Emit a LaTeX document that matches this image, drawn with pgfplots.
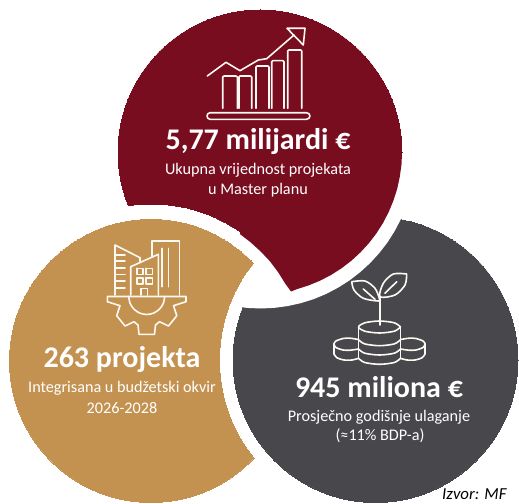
\documentclass[border=0pt]{standalone}
\usepackage{fontspec}
\setmainfont{Carlito}
\usepackage{pgfplots}
\pgfplotsset{compat=1.18}
\definecolor{crimson}{RGB}{120,13,32}
\definecolor{goldtan}{RGB}{196,146,80}
\definecolor{slate}{RGB}{72,72,76}
\definecolor{iconw}{RGB}{252,248,242}
\tikzset{
  disc/.style 2 args={only marks, mark=*, mark size=#1pt,
    mark options={draw=#2, fill=#2, line width=0pt}},
  ic/.style={no markers, draw=iconw, line width=1.6pt, line join=round, line cap=round},
  big/.style={text=white, font=\fontsize{30}{32}\selectfont\bfseries, anchor=center},
  sub/.style={text=white, font=\fontsize{16.2}{18}\selectfont, anchor=center}
}
\begin{document}
\begin{tikzpicture}
\begin{axis}[
  name=ax, scale only axis, width=519pt, height=503pt,
  xmin=0, xmax=519, ymin=0, ymax=503, y dir=reverse,
  hide axis, clip=true, clip marker paths=true
]
% the three circles, each one cutting the next with a white ring
\addplot[disc={142}{crimson}] coordinates {(260,152)};
\addplot[disc={156}{white}] coordinates {(151,361)};
\addplot[disc={141.5}{goldtan}] coordinates {(151,361)};
\addplot[disc={155}{white}] coordinates {(375.5,360)};
\addplot[disc={142.5}{slate}] coordinates {(375.5,360)};
% white ring of the red circle over the dark one
\addplot[fill=white, draw=none] coordinates {
  (415.5,153.5)(413.1,180.4)(410.2,193.6)(406.2,206.5)(401,219)(394.7,231)
  (387.5,242.4)(379.2,253.1)(370.1,263.1)(360.1,272.2)(349.4,280.5)(338,287.7)
  (326,294)(313.5,299.2)(300.6,303.2)(287.4,306.1)(274,307.9)(260.5,308.5)
  (247,307.9)(233.6,306.1)(254.5,264)(300,200)} -- cycle;
% red part that lies on top
\addplot[fill=crimson, draw=none] coordinates {
  (402,152)(401.5,164.4)(399.8,176.7)(397.2,188.8)(393.4,200.6)(388.7,212.0)
  (383.0,223.0)(376.3,233.5)(368.8,243.3)(360.4,252.4)(351.3,260.8)(341.5,268.3)
  (331,275.0)(320.0,280.7)(308.6,285.4)(296.8,289.2)(291,291.5)
  (285.2,283.5)(278,272)(269.7,261)(260.6,251.4)(250.6,242.3)(239.9,234)(250,180)} -- cycle;

% chart icon
\addplot[ic] coordinates {(210,112.7)(306.5,112.7)(309,113.8)(310,116)(309,118.2)(306.5,119.3)(210,119.3)(207.8,118.2)(207,116)(207.8,113.8)(210,112.7)};
\addplot[ic] coordinates {(222.7,108.3)(222.7,77)(224,76)(236,76)(237.3,77)(237.3,108.3)};
\addplot[ic] coordinates {(239,108.3)(239,77)(240,76)(250.5,76)(251.7,77)(251.7,108.3)};
\addplot[ic] coordinates {(256,108.3)(256,67)(257,66)(268,66)(269,67)(269,108.3)};
\addplot[ic] coordinates {(271.7,108.3)(271.7,61.7)(272.7,60.7)(283,60.7)(284,61.7)(284,108.3)};
\addplot[ic] coordinates {(287.7,108.3)(287.7,51)(288.7,50)(300.7,50)(301.7,51)(301.7,108.3)};
\addplot[ic] coordinates {(207.3,76)(226,62.3)(240,70.7)(258.3,60)(266.7,58.7)(294,35)};
\addplot[ic] coordinates {(287,28.3)(305,28.3)(303.3,45)(287,28.3)};

% buildings on a gear
\addplot[ic] coordinates {(115,295)(115,245)(140,257.7)(140,262.5)};
\addplot[ic] coordinates {(115,255)(125,255)};
\addplot[ic] coordinates {(115,261)(125,261)};
\addplot[ic] coordinates {(115,267.7)(125,267.7)};
\addplot[ic] coordinates {(115,274.3)(125,274.3)};
\addplot[ic] coordinates {(115,281)(125,281)};
\addplot[ic] coordinates {(115,287.7)(125,287.7)};
\addplot[ic] coordinates {(130.7,295)(130.7,266.7)(158.3,254.3)(158.3,295)};
\addplot[ic] coordinates {(151.7,257)(151.7,241)(179.3,241)(179.3,295)};
\addplot[ic] coordinates {(161.7,248.3)(161.7,286.7)};
\addplot[ic] coordinates {(168.3,248.3)(168.3,286.7)};
\addplot[ic] coordinates {(136.7,268.3)(142.7,268.3)(142.7,274.3)(136.7,274.3)(136.7,268.3)};
\addplot[ic] coordinates {(146,268.3)(152.3,268.3)(152.3,274.3)(146,274.3)(146,268.3)};
\addplot[ic] coordinates {(136.7,277.7)(142.7,277.7)(142.7,283.7)(136.7,283.7)(136.7,277.7)};
\addplot[ic] coordinates {(146,277.7)(152.3,277.7)(152.3,283.7)(146,283.7)(146,277.7)};
\addplot[ic] coordinates {(140.7,295)(140.7,288.3)(147.3,288.3)(147.3,295)};
\addplot[ic] coordinates {(107.3,296.5)(107.3,301.7)(120,305.7)(116.7,315.7)(125,326)(134,321.7)(138,325)(139,334.3)(154.5,334.3)(155.5,325)(159.5,321.7)(168.5,326)(176.8,315.7)(173.5,305.7)(186,301.7)(186,296.5)(107.3,296.5)};
\addplot[ic, smooth] coordinates {(128.7,296.5)(130.1,303.4)(134,309.2)(139.8,313.1)(146.7,314.5)(153.6,313.1)(159.4,309.2)(163.3,303.4)(164.7,296.5)};

% plant on coins
\addplot[ic] coordinates {(380,297)(380,325)};
\addplot[ic, smooth] coordinates {(351.7,281.7)(365,281)(375,288.3)(379.3,298.3)(378.3,301)(363.3,298.3)(354,290)(351.7,281.7)};
\addplot[ic] coordinates {(363.3,289)(375,299.3)};
\addplot[ic, smooth] coordinates {(406.7,274)(393.3,274)(383.3,283.3)(380,296.7)(395,295)(405,285)(406.7,274)};
\addplot[ic] coordinates {(385,293.3)(396.7,281.7)};
\addplot[ic, smooth] coordinates {(400.5,327)(394.3,331.2)(379.5,333)(364.7,331.2)(358.5,327)(364.7,322.8)(379.5,321)(394.3,322.8)(400.5,327)};
\addplot[ic] coordinates {(358.5,327)(358.5,358.3)};
\addplot[ic] coordinates {(400.5,327)(400.5,358.3)};
\addplot[ic, smooth] coordinates {(358.5,339.7)(364.7,343.9)(379.5,345.7)(394.3,343.9)(400.5,339.7)};
\addplot[ic, smooth] coordinates {(358.5,349)(364.7,353.2)(379.5,355)(394.3,353.2)(400.5,349)};
\addplot[ic, smooth] coordinates {(358.5,358.3)(364.7,362.5)(379.5,364.3)(394.3,362.5)(400.5,358.3)};
\addplot[ic, smooth] coordinates {(358.5,339.5)(350,338.2)(343,338.5)(336,341)(334,344)(336,347.5)(343,350)(350,350.2)(358.5,349)};
\addplot[ic] coordinates {(334,344)(334,354)};
\addplot[ic, smooth] coordinates {(334,354)(337,357.8)(344,360)(352,360)(358.5,358.3)};
\addplot[ic, smooth] coordinates {(400.5,339.5)(409,338.2)(416,338.5)(423,341)(425,344)(423,347.5)(416,350)(409,350.2)(400.5,349)};
\addplot[ic] coordinates {(425,344)(425,354)};
\addplot[ic, smooth] coordinates {(425,354)(422,357.8)(415,360)(407,360)(400.5,358.3)};

\node[big] at (axis cs:258,142) {5,77 milijardi €};
\node[sub] at (axis cs:258,170) {Ukupna vrijednost projekata};
\node[sub] at (axis cs:258,190) {u Master planu};
\node[big] at (axis cs:122,360) {263 projekta};
\node[sub] at (axis cs:122,388) {Integrisana u budžetski okvir};
\node[sub] at (axis cs:122,408) {2026-2028};
\node[big] at (axis cs:379,387) {945 miliona €};
\node[sub] at (axis cs:379,417) {Prosječno godišnje ulaganje};
\node[sub] at (axis cs:380,436) {(≈11\% BDP-a)};
\node[font=\fontsize{16.8}{18}\selectfont\itshape, anchor=east] at (axis cs:510,494.5) {Izvor: MF};
\end{axis}
\pgfresetboundingbox
\path[use as bounding box] (ax.south west) rectangle (ax.north east);
\end{tikzpicture}
\end{document}
